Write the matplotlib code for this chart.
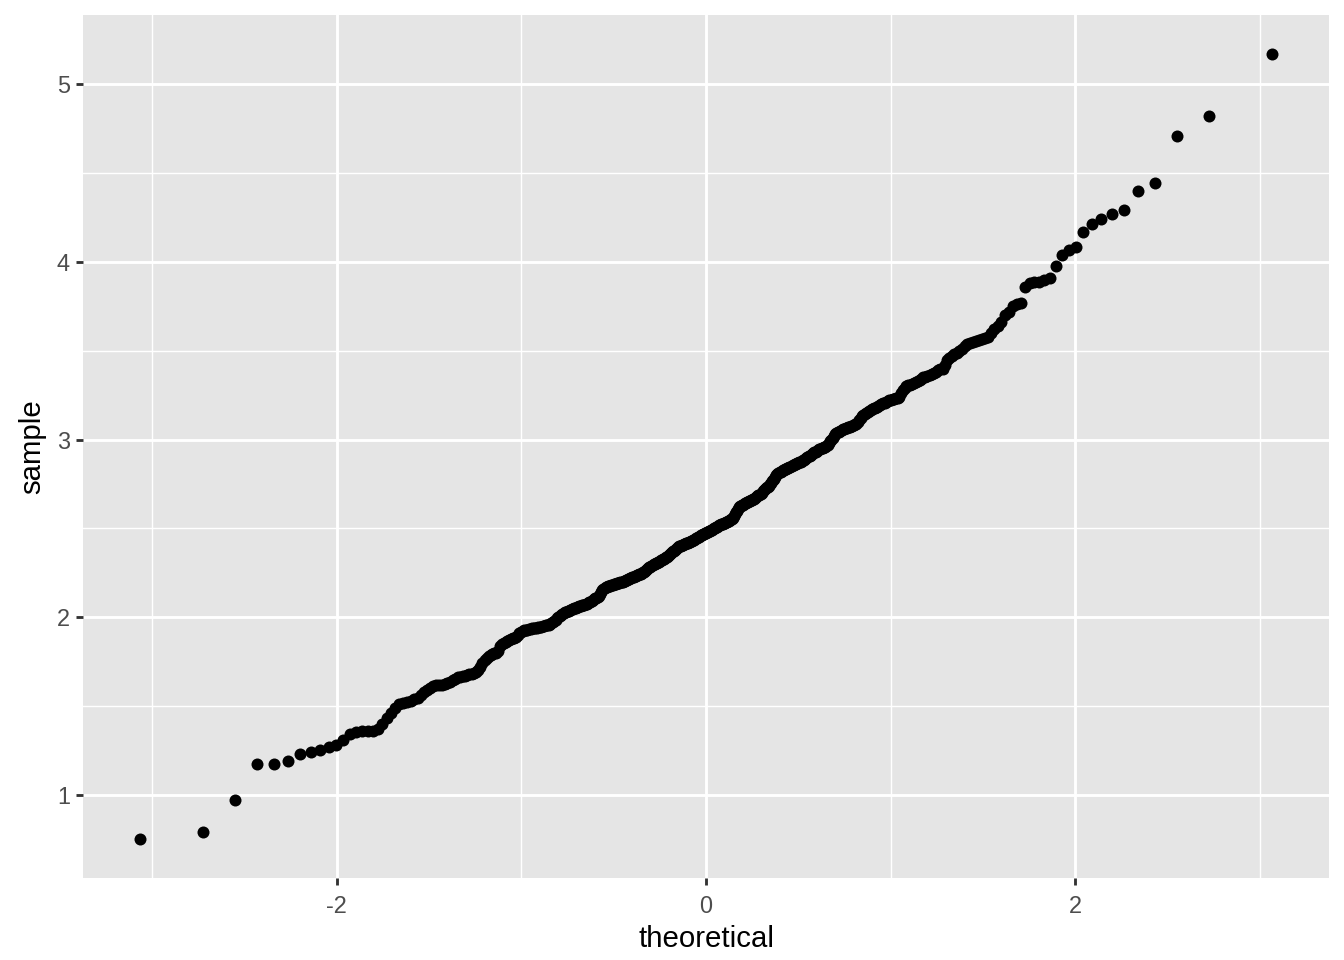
import statistics
import matplotlib
matplotlib.use("Agg")
import matplotlib.pyplot as plt

# sorted sample values (n = 465)
sample_sorted = [
    0.75, 0.79, 0.97, 1.17, 1.17, 1.19, 1.23, 1.24, 1.25, 1.27,
    1.28, 1.31, 1.34, 1.355, 1.36, 1.36, 1.36, 1.37, 1.40, 1.43,
    1.46, 1.49, 1.51, 1.515, 1.52, 1.53, 1.54, 1.545, 1.56, 1.58,
    1.59, 1.60, 1.61, 1.615, 1.62, 1.62, 1.625, 1.63, 1.635, 1.645,
    1.65, 1.66, 1.665, 1.67, 1.67, 1.675, 1.68, 1.68, 1.685, 1.69,
    1.70, 1.72, 1.74, 1.76, 1.77, 1.78, 1.785, 1.79, 1.80, 1.80,
    1.81, 1.84, 1.85, 1.855, 1.86, 1.865, 1.87, 1.875, 1.88, 1.885,
    1.89, 1.90, 1.91, 1.915, 1.92, 1.925, 1.93, 1.93, 1.935, 1.935,
    1.936, 1.938, 1.94, 1.94, 1.942, 1.944, 1.946, 1.948, 1.95, 1.953,
    1.955, 1.958, 1.962, 1.966, 1.97, 1.978, 1.985, 1.993, 2.0, 2.007,
    2.013, 2.018, 2.022, 2.026, 2.03, 2.033, 2.036, 2.04, 2.043, 2.046,
    2.05, 2.053, 2.056, 2.059, 2.062, 2.064, 2.066, 2.068, 2.07, 2.073,
    2.076, 2.079, 2.083, 2.087, 2.092, 2.097, 2.10, 2.105, 2.11, 2.115,
    2.12, 2.13, 2.14, 2.15, 2.16, 2.165, 2.17, 2.172, 2.175, 2.177,
    2.178, 2.18, 2.182, 2.184, 2.186, 2.188, 2.19, 2.192, 2.194, 2.196,
    2.198, 2.20, 2.202, 2.205, 2.207, 2.21, 2.213, 2.216, 2.219, 2.222,
    2.225, 2.228, 2.23, 2.233, 2.236, 2.238, 2.24, 2.243, 2.245, 2.248,
    2.252, 2.256, 2.26, 2.265, 2.27, 2.275, 2.28, 2.285, 2.29, 2.295,
    2.298, 2.30, 2.303, 2.306, 2.31, 2.313, 2.317, 2.32, 2.323, 2.327,
    2.33, 2.334, 2.338, 2.341, 2.345, 2.35, 2.355, 2.36, 2.365, 2.37,
    2.375, 2.38, 2.385, 2.39, 2.395, 2.398, 2.40, 2.403, 2.405, 2.408,
    2.41, 2.412, 2.415, 2.417, 2.42, 2.422, 2.425, 2.427, 2.43, 2.433,
    2.436, 2.44, 2.443, 2.447, 2.45, 2.453, 2.456, 2.46, 2.463, 2.466,
    2.469, 2.472, 2.475, 2.478, 2.481, 2.484, 2.487, 2.49, 2.493, 2.496,
    2.50, 2.503, 2.507, 2.51, 2.513, 2.516, 2.519, 2.522, 2.525, 2.527,
    2.53, 2.532, 2.535, 2.537, 2.54, 2.543, 2.547, 2.55, 2.555, 2.56,
    2.57, 2.58, 2.59, 2.60, 2.61, 2.62, 2.623, 2.626, 2.63, 2.633,
    2.636, 2.64, 2.643, 2.646, 2.649, 2.652, 2.655, 2.658, 2.661, 2.664,
    2.667, 2.67, 2.675, 2.68, 2.685, 2.69, 2.695, 2.70, 2.71, 2.715,
    2.72, 2.725, 2.73, 2.735, 2.74, 2.75, 2.755, 2.765, 2.77, 2.78,
    2.79, 2.80, 2.805, 2.81, 2.815, 2.82, 2.823, 2.826, 2.829, 2.832,
    2.835, 2.838, 2.841, 2.845, 2.848, 2.851, 2.854, 2.857, 2.86, 2.863,
    2.866, 2.869, 2.872, 2.875, 2.878, 2.882, 2.885, 2.89, 2.895, 2.90,
    2.905, 2.91, 2.915, 2.92, 2.924, 2.928, 2.932, 2.936, 2.94, 2.944,
    2.948, 2.951, 2.954, 2.957, 2.96, 2.963, 2.97, 2.98, 2.99, 3.0,
    3.01, 3.02, 3.03, 3.035, 3.04, 3.045, 3.05, 3.055, 3.058, 3.061,
    3.064, 3.067, 3.07, 3.073, 3.076, 3.079, 3.082, 3.085, 3.09, 3.10,
    3.11, 3.12, 3.13, 3.138, 3.145, 3.15, 3.155, 3.16, 3.165, 3.17,
    3.175, 3.18, 3.185, 3.19, 3.195, 3.20, 3.204, 3.208, 3.212, 3.216,
    3.22, 3.223, 3.226, 3.229, 3.232, 3.235, 3.24, 3.26, 3.28, 3.29,
    3.30, 3.305, 3.31, 3.315, 3.32, 3.325, 3.33, 3.335, 3.34, 3.35,
    3.355, 3.36, 3.365, 3.37, 3.375, 3.38, 3.39, 3.395, 3.40, 3.42,
    3.45, 3.46, 3.47, 3.48, 3.49, 3.50, 3.51, 3.525, 3.54, 3.545,
    3.55, 3.555, 3.56, 3.565, 3.57, 3.58, 3.60, 3.62, 3.64, 3.66,
    3.70, 3.72, 3.75, 3.765, 3.77, 3.86, 3.88, 3.885, 3.89, 3.90,
    3.91, 3.98, 4.04, 4.07, 4.085, 4.17, 4.215, 4.24, 4.27, 4.295,
    4.40, 4.445, 4.71, 4.82, 5.17,
]

x_ticks = [-2, 0, 2]
y_ticks = [1, 2, 3, 4, 5]
x_label = "theoretical"
y_label = "sample"

# theoretical normal quantiles, same plotting positions as stat_qq (ppoints)
n = len(sample_sorted)
a = 3 / 8 if n <= 10 else 0.5
nd = statistics.NormalDist()
theoretical = [nd.inv_cdf((i + 1 - a) / (n + 1 - 2 * a)) for i in range(n)]

plt.rcParams["font.family"] = ["Liberation Sans", "DejaVu Sans"]

fig = plt.figure(figsize=(7, 5), dpi=192)
ax = fig.add_axes([83 / 1344, 1 - 878.3 / 960, (1329 - 83) / 1344, (878.3 - 15) / 960])
ax.set_facecolor("#E5E5E5")
for s in ax.spines.values():
    s.set_visible(False)

ax.plot(theoretical, sample_sorted, "o", color="black", ms=4.5, mew=0, zorder=3)
ax.margins(0.05)

ax.xaxis.set_major_locator(plt.FixedLocator(x_ticks))
ax.yaxis.set_major_locator(plt.FixedLocator(y_ticks))
ax.xaxis.set_minor_locator(plt.FixedLocator([-3, -1, 1, 3]))
ax.yaxis.set_minor_locator(plt.FixedLocator([1.5, 2.5, 3.5, 4.5]))
ax.grid(which="major", color="white", lw=1.07)
ax.grid(which="minor", color="white", lw=0.53)
ax.set_axisbelow(True)

ax.tick_params(which="major", length=2.75, width=1.07, color="#333333",
               labelsize=8.8, labelcolor="#4D4D4D", pad=2.2)
ax.tick_params(axis="x", which="major", pad=3.5)
ax.tick_params(which="minor", length=0)
ax.set_xticklabels([str(t) for t in x_ticks])
ax.set_yticklabels([str(t) for t in y_ticks])

ax.set_xlabel(x_label, fontsize=11, labelpad=2.75)
ax.set_ylabel(y_label, fontsize=11, labelpad=4)

fig.savefig("out.png", dpi=192)
